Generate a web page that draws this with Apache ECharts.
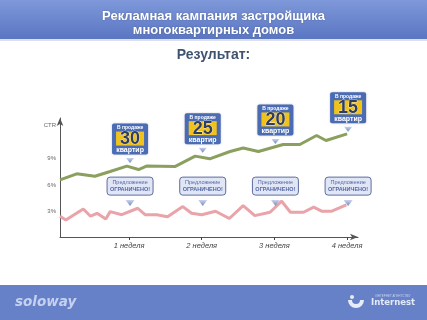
<!DOCTYPE html>
<html><head><meta charset="utf-8">
<script src="https://cdn.jsdelivr.net/npm/echarts@6/dist/echarts.min.js"></script>
<style>html,body{margin:0;padding:0;background:#fff}#c{width:427px;height:320px}</style>
</head><body><div id="c"></div>
<script>
// ---- data ----
var weekTicks = [1, 2, 3, 4];
var weekLabels = ['1 неделя', '2 неделя', '3 неделя', '4 неделя'];
var yTickValues = [3, 6, 9, 12.8];
var yTickLabels = ['3%', '6%', '9%', 'CTR'];
var greenX = [0.05,0.28,0.53,0.74,0.97,1.13,1.24,1.63,1.91,2.11,2.39,2.57,2.78,3.12,3.35,3.58,3.71,4.0];
var greenY = [6.58,7.27,7.0,7.54,8.16,7.77,8.16,8.11,9.31,9.0,9.84,10.24,9.84,10.65,10.65,11.69,11.11,11.88];
var redX = [0.05,0.13,0.37,0.47,0.56,0.68,0.74,0.90,1.12,1.22,1.38,1.53,1.74,1.86,2.0,2.19,2.38,2.57,2.73,2.94,3.10,3.22,3.40,3.54,3.65,3.79,3.99];
var redY = [2.39,1.96,3.23,2.39,2.73,2.08,2.92,2.57,3.31,2.57,2.57,2.34,3.5,2.73,2.57,2.97,2.13,3.61,2.46,2.85,4.12,2.85,2.85,3.43,2.97,2.97,3.69];
var badgeNumbers = ['30', '25', '20', '15'];
var badgeTipValues = [8.8, 10.0, 11.0, 12.4];
var offerTipValue = 3.9;

function pairs(xs, ys) { return xs.map(function (x, i) { return [x, ys[i]]; }); }

var chart = echarts.init(document.getElementById('c'), null, {renderer: 'canvas'});
var baseFont = '"Liberation Sans", Arial, sans-serif';

chart.setOption({
  animation: false,
  title: [
    {text: 'Рекламная кампания застройщика\nмногоквартирных домов', left: 'center', top: 4,
     textStyle: {color: '#ffffff', fontSize: 13, fontWeight: 'bold', lineHeight: 14, fontFamily: baseFont,
                 textShadowColor: 'rgba(0,0,0,0.25)', textShadowBlur: 2}},
    {text: 'Результат:', left: 'center', top: 43,
     textStyle: {color: '#3e5370', fontSize: 14, fontWeight: 'bold', fontFamily: baseFont}}
  ],
  grid: {left: 60, right: 69, top: 118, bottom: 83, containLabel: false},
  xAxis: {
    type: 'value', min: 0.05, max: 4.15,
    axisLine: {show: true, lineStyle: {color: '#555', width: 1}, symbol: ['none', 'arrow'], symbolSize: [5, 8]},
    axisTick: {show: true, customValues: weekTicks, length: 3, inside: false, lineStyle: {color: '#444'}},
    axisLabel: {customValues: weekTicks, formatter: function (v) { return weekLabels[weekTicks.indexOf(v)] || ''; },
                color: '#444', fontSize: 7.5, fontStyle: 'italic', fontFamily: baseFont, margin: 5},
    splitLine: {show: false}
  },
  yAxis: {
    type: 'value', min: 0, max: 13.7,
    axisLine: {show: true, lineStyle: {color: '#555', width: 1}, symbol: ['none', 'arrow'], symbolSize: [5, 8]},
    axisTick: {show: false},
    axisLabel: {customValues: yTickValues, formatter: function (v) { return yTickLabels[yTickValues.indexOf(v)] || ''; },
                color: '#666', fontSize: 6, fontFamily: baseFont, margin: 4},
    splitLine: {show: false}
  },
  series: [
    {type: 'line', data: pairs(greenX, greenY), showSymbol: false, lineStyle: {color: '#8b9f5e', width: 3}, z: 3},
    {type: 'line', data: pairs(redX, redY), showSymbol: false, lineStyle: {color: '#e9a3a9', width: 3}, z: 3}
  ]
});

var g = [];
// header band
g.push({type: 'rect', z: -10, shape: {x: 0, y: 0, width: 427, height: 39},
  style: {fill: new echarts.graphic.LinearGradient(0, 0, 0, 1, [{offset: 0, color: '#7e98da'}, {offset: 1, color: '#5b76c2'}])}});
g.push({type: 'rect', z: -10, shape: {x: 0, y: 39, width: 427, height: 2}, style: {fill: 'rgba(120,130,160,0.25)'}});
// footer band
g.push({type: 'rect', z: -10, shape: {x: 0, y: 285, width: 427, height: 35}, style: {fill: '#6681c8'}});
g.push({type: 'text', z: 5, style: {text: 'soloway', x: 15, y: 302, verticalAlign: 'middle',
  font: 'italic bold 13.5px "DejaVu Sans", sans-serif', fill: '#c5d1ef'}});
g.push({type: 'text', z: 5, style: {text: 'Internest', x: 371, y: 303, verticalAlign: 'middle',
  font: 'bold 8.5px "DejaVu Sans", sans-serif', fill: '#e3e9f8'}});
g.push({type: 'text', z: 5, style: {text: 'ИНТЕРНЕТ АГЕНТСТВО', x: 393, y: 296, align: 'center', verticalAlign: 'middle',
  font: '3px sans-serif', fill: '#c9d4f0'}});
g.push({type: 'circle', z: 5, shape: {cx: 352, cy: 297, r: 2}, style: {fill: '#e6ecf9'}});
g.push({type: 'sector', z: 5, shape: {cx: 356, cy: 300, r: 8, r0: 4, startAngle: 0, endAngle: Math.PI}, style: {fill: '#e6ecf9'}});

function tri(cx, cy, w, h, color) {
  return {type: 'polygon', z: 6, shape: {points: [[cx - w / 2, cy - h / 2], [cx + w / 2, cy - h / 2], [cx, cy + h / 2]]},
    style: {fill: new echarts.graphic.LinearGradient(0, 0, 0, 1, [{offset: 0, color: '#c9d3ee'}, {offset: 1, color: color}])}};
}

weekTicks.forEach(function (w, i) {
  // sale badge
  var tip = chart.convertToPixel({gridIndex: 0}, [w, badgeTipValues[i]]);
  var cx = tip[0] + 1, ty = tip[1];
  g.push(tri(cx, ty, 8, 5, '#6f86c0'));
  var bx = cx - 18, by = ty - 37;
  g.push({type: 'rect', z: 6, shape: {x: bx, y: by, width: 36, height: 31, r: 2},
    style: {fill: '#4a6cb4', shadowColor: 'rgba(0,0,0,0.25)', shadowBlur: 2}});
  g.push({type: 'text', z: 7, style: {text: 'В продаже', x: cx, y: by + 4.5, align: 'center', verticalAlign: 'middle',
    font: 'bold 5px ' + baseFont, fill: '#ffffff'}});
  g.push({type: 'rect', z: 7, shape: {x: bx + 4, y: by + 8, width: 28, height: 14}, style: {fill: '#f1c21b'}});
  g.push({type: 'text', z: 8, style: {text: badgeNumbers[i], x: cx, y: by + 15.5, align: 'center', verticalAlign: 'middle',
    font: 'bold 18px ' + baseFont, fill: '#2f3d5e', stroke: '#ffffff', lineWidth: 0.6}});
  g.push({type: 'text', z: 7, style: {text: 'квартир', x: cx, y: by + 26.5, align: 'center', verticalAlign: 'middle',
    font: 'bold 7px ' + baseFont, fill: '#ffffff'}});
  // offer box
  var ot = chart.convertToPixel({gridIndex: 0}, [w, offerTipValue]);
  var ox = ot[0] + 1, oy = ot[1];
  g.push(tri(ox, oy, 9, 6, '#6f86c0'));
  g.push({type: 'rect', z: 6, shape: {x: ox - 23, y: oy - 26, width: 46, height: 18, r: 3},
    style: {fill: '#e1e6f6', stroke: '#5c6c9f', lineWidth: 1}});
  g.push({type: 'text', z: 7, style: {text: 'Предложение', x: ox, y: oy - 21, align: 'center', verticalAlign: 'middle',
    font: '5.5px ' + baseFont, fill: '#5567a3'}});
  g.push({type: 'text', z: 7, style: {text: 'ОГРАНИЧЕНО!', x: ox, y: oy - 14, align: 'center', verticalAlign: 'middle',
    font: 'bold 5.5px ' + baseFont, fill: '#5567a3'}});
});

chart.setOption({graphic: g});
</script>
</body></html>
